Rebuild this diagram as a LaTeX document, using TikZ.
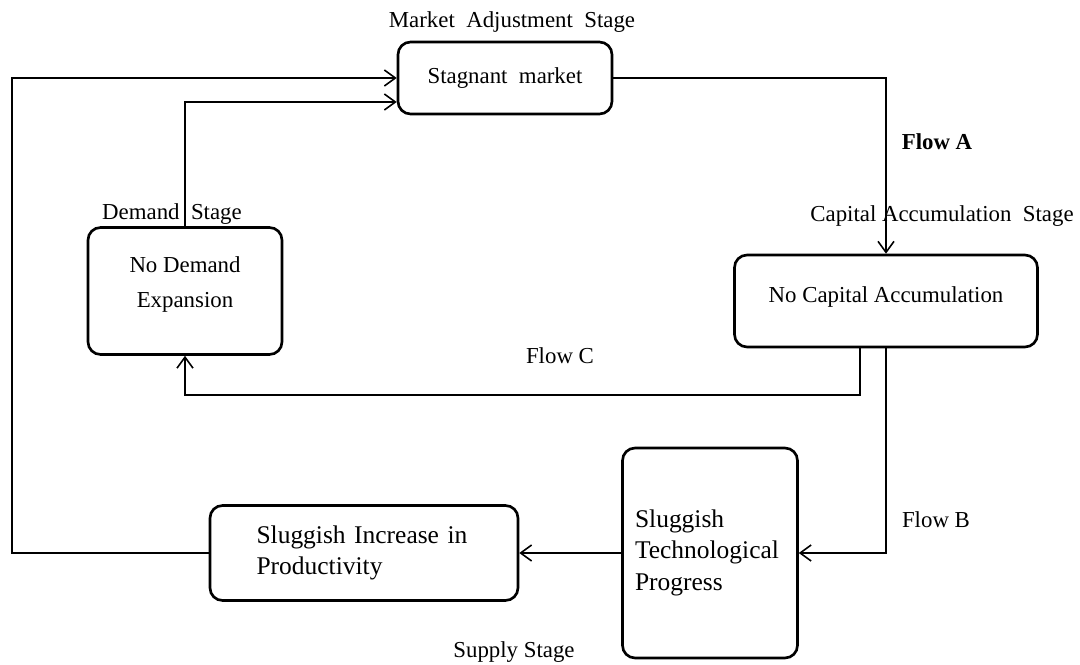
\documentclass[tikz,border=0pt]{standalone}
\usepackage{fontspec}
\setmainfont{Liberation Serif}
\usetikzlibrary{arrows.meta,positioning}
\begin{document}
\begin{tikzpicture}[x=0.02cm,y=-0.02cm,>={Straight Barb[length=2.2mm,width=3.2mm]},font=\fontsize{13}{18}\selectfont,line width=0.9pt]
\tikzstyle{stage}=[draw,line width=1.5pt,rounded corners=0.25cm,align=center,inner sep=2pt]
\tikzstyle{big}=[font=\fontsize{14.5}{17.5}\selectfont,align=left]
\useasboundingbox (0,0) rectangle (1080,665);
\node[stage,minimum width=4.28cm,minimum height=1.44cm] (mkt) at (505,78) {Stagnant\enspace market};
\node[stage,minimum width=6.06cm,minimum height=1.84cm] (cap) at (886,301) {No Capital Accumulation\\[-11pt]};
\node[stage,minimum width=3.88cm,minimum height=2.54cm] (dem) at (185,291) {No Demand\\[2pt] Expansion\\[-8pt]};
\node[stage,big,minimum width=3.5cm,minimum height=4.2cm,text width=3.0cm] (tech) at (710,553) {Sluggish\\ Technological\\[1pt] Progress};
\node[stage,big,minimum width=6.16cm,minimum height=1.9cm,text width=4.3cm] (prod) at (364,553) {Sluggish Increase in\\ Productivity};
\node (mktlbl) at (512,22) {Market\enspace Adjustment\enspace Stage};
\node[font=\fontsize{13}{18}\selectfont\bfseries] (flowa) at (937,142) {Flow A};
\node (caplbl) at (942,216) {Capital Accumulation\enspace Stage};
\node (demlbl) at (172,214) {Demand\enspace Stage};
\node (flowc) at (560,356) {Flow C};
\node (flowb) at (936,520) {Flow B};
\node (suplbl) at (514,652) {Supply Stage};
\coordinate (lc) at (12,78); \coordinate (dc) at (185,102); \coordinate (cc) at (860,395);
\draw[->] (mkt.east) -| (cap.north);
\draw[->] (cc |- cap.south) -- (cc) -| (dem.south);
\draw[->] (cap.south) |- (tech.east);
\draw[->] (tech.west) -- (prod.east);
\draw[->] (prod.west) -| (lc) -- (mkt.west);
\draw[->] (dem.north) -- (dc) -- (dc -| mkt.west);
\end{tikzpicture}
\end{document}
